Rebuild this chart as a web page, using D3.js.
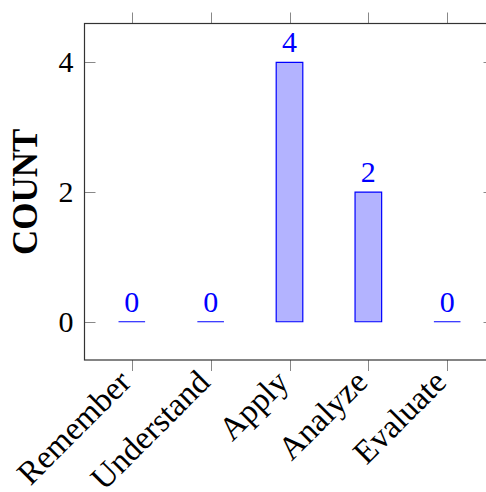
<!DOCTYPE html>
<html><head><meta charset="utf-8">
<script src="https://cdn.jsdelivr.net/npm/d3@7"></script>
<style>body{margin:0;background:#fff}svg{display:block}</style>
</head><body><svg id="c" width="486" height="492"></svg>
<script>
const categories = ["Remember","Understand","Apply","Analyze","Evaluate"];
const counts = [0,0,4,2,0];
const yTicks = [0,2,4];

const svg = d3.select("#c");
const L = 84.5, R = 494.5, T = 23.5, B = 360;
const x = d3.scaleLinear().domain([-0.6, 4.6]).range([L, R]);
const y = d3.scaleLinear().domain([-0.59, 4.6]).range([B, T]);
const font = "'Liberation Serif','DejaVu Serif',serif";
const bw = 26.6;

// bars (path so zero-height bars still show a line)
svg.append("g").selectAll("path").data(counts).join("path")
  .attr("d", (d,i)=>{
    const x0 = x(i)-bw/2, x1 = x(i)+bw/2, y0 = y(0), y1 = y(d);
    return `M${x0},${y0}V${y1}H${x1}V${y0}Z`;
  })
  .attr("fill", "#b3b3ff").attr("stroke", "#0000ff").attr("stroke-width", 1.2);

// value labels
svg.append("g").selectAll("text").data(counts).join("text")
  .attr("x", (d,i)=>x(i)).attr("y", d=>y(d)-10)
  .attr("text-anchor","middle").attr("font-family",font).attr("font-size",30)
  .attr("fill","#0000ff").text(d=>d);

// ticks
const tg = svg.append("g").attr("stroke","#888").attr("stroke-width",1);
categories.forEach((c,i)=>{
  const xx = Math.round(x(i))+0.5;
  tg.append("line").attr("x1",xx).attr("x2",xx).attr("y1",T).attr("y2",T-11);
  tg.append("line").attr("x1",xx).attr("x2",xx).attr("y1",B).attr("y2",B+11);
});
yTicks.forEach(v=>{
  const yy = Math.round(y(v))+0.5;
  tg.append("line").attr("x1",L).attr("x2",L+11).attr("y1",yy).attr("y2",yy);
  tg.append("line").attr("x1",R).attr("x2",R-11).attr("y1",yy).attr("y2",yy);
});

// frame
svg.append("rect").attr("x",L).attr("y",T).attr("width",R-L).attr("height",B-T)
  .attr("fill","none").attr("stroke","#333").attr("stroke-width",1.2);

// y tick labels
svg.append("g").selectAll("text").data(yTicks).join("text")
  .attr("x", L-11).attr("y", d=>y(d)+10)
  .attr("text-anchor","end").attr("font-family",font).attr("font-size",30)
  .attr("fill","#000").text(d=>d);

// x labels rotated
svg.append("g").selectAll("text").data(categories).join("text")
  .attr("transform",(d,i)=>`translate(${x(i)+1},${B+24}) rotate(-45)`)
  .attr("text-anchor","end").attr("font-family",font).attr("font-size",33)
  .attr("fill","#000").text(d=>d);

// y axis title
svg.append("text").attr("transform",`translate(37,${(T+B)/2}) rotate(-90)`)
  .attr("text-anchor","middle").attr("font-family",font).attr("font-size",35)
  .attr("font-weight","bold").attr("fill","#000").text("COUNT");
</script></body></html>
